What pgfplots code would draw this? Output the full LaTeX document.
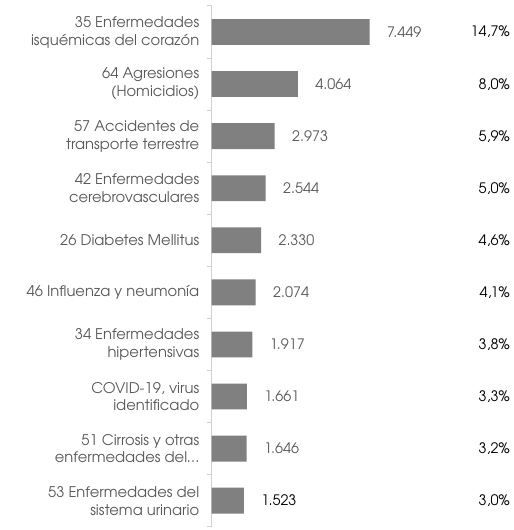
\documentclass[border=0pt]{standalone}
\usepackage{pgfplots}
\pgfplotsset{compat=1.18}
\usepackage{fontspec}
\setmainfont{TeX Gyre Adventor}
\definecolor{labgray}{HTML}{595959}
\definecolor{bargray}{HTML}{808080}
\definecolor{axgray}{HTML}{D0D0D0}
\begin{document}
\begin{tikzpicture}
\begin{axis}[
  scale only axis,
  width=300pt, height=524pt,
  xbar, bar width=26pt, bar shift=0pt,
  xmin=0, xmax=14052,
  ymin=-0.5, ymax=9.5,
  y dir=reverse,
  hide x axis,
  axis y line*=left,
  y axis line style={axgray, line width=1.2pt},
  ytick={0,...,9},
  major tick length=0pt,
  extra y ticks={-0.5,0.5,1.5,2.5,3.5,4.5,5.5,6.5,7.5,8.5,9.5},
  extra y tick labels={},
  extra y tick style={tick align=outside, major tick length=5pt, tick style={axgray, line width=1pt}},
  yticklabels={
    {35 Enfermedades\\isquémicas del corazón},
    {64 Agresiones\\(Homicidios)},
    {57 Accidentes de\\transporte terrestre},
    {42 Enfermedades\\cerebrovasculares},
    {26 Diabetes Mellitus},
    {46 Influenza y neumonía},
    {34 Enfermedades\\hipertensivas},
    {COVID-19, virus\\identificado},
    {51 Cirrosis y otras\\enfermedades del\ldots},
    {53 Enfermedades del\\sistema urinario}},
  yticklabel style={align=right, text=labgray, font=\fontsize{14.8}{18}\selectfont, xshift=-9pt},
  clip=false,
  nodes near coords,
  point meta=explicit symbolic,
  every node near coord/.append style={anchor=west, xshift=14pt, text=labgray, font=\fontsize{14.5}{16}\selectfont},
]
\addplot[fill=bargray, draw=none] coordinates {
  (7449,0) [7.449]
  (4064,1) [4.064]
  (2973,2) [2.973]
  (2544,3) [2.544]
  (2330,4) [2.330]
  (2074,5) [2.074]
  (1917,6) [1.917]
  (1661,7) [1.661]
  (1646,8) [1.646]
  (1523,9) [\textcolor{black}{1.523}]
};
\addplot[draw=none, bar width=0pt, nodes near coords style={anchor=east, xshift=0pt, text=black, font=\fontsize{14.5}{16}\selectfont}] coordinates {
  (13560,0) [14,7\%]
  (13560,1) [8,0\%]
  (13560,2) [5,9\%]
  (13560,3) [5,0\%]
  (13560,4) [4,6\%]
  (13560,5) [4,1\%]
  (13560,6) [3,8\%]
  (13560,7) [3,3\%]
  (13560,8) [3,2\%]
  (13560,9) [3,0\%]
};
\end{axis}
\path ([xshift=-213pt]current axis.south west) rectangle ([yshift=6pt]current axis.north east);
\end{tikzpicture}
\end{document}
